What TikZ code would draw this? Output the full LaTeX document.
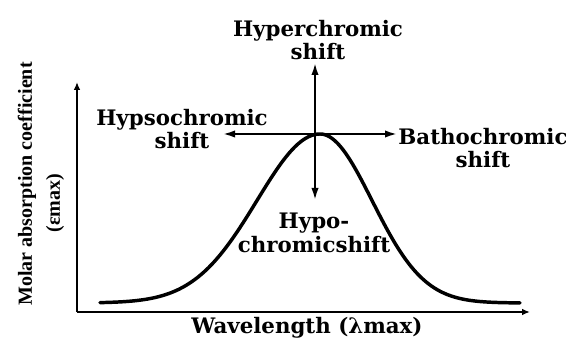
\documentclass[tikz,border=0pt]{standalone}
\usepackage{fontspec}
\setmainfont{DejaVu Serif}
\newfontfamily\axisfont{Liberation Serif}
\usetikzlibrary{arrows.meta,positioning}

\begin{document}
\begin{tikzpicture}[
    x=0.75pt, y=-0.75pt,
    font=\bfseries\fontsize{16}{17.5}\selectfont,
    lbl/.style={align=center, inner sep=0pt},
    ylbl/.style={inner sep=0pt, rotate=90, font=\axisfont\bfseries\fontsize{15}{17}\selectfont},
    axis/.style={line width=1.5pt, -{Latex[length=6pt, width=5pt]}},
    curve/.style={line width=2.6pt, line cap=round},
    arr/.style={line width=1.5pt, -{Latex[length=9pt, width=5.5pt]}}
]
\useasboundingbox (0,0) rectangle (566,341);

% axes
\coordinate (origin) at (77,312);
\coordinate (ytop) at (77,82);
\coordinate (xend) at (530,312);
\draw[axis] (origin) -- (ytop);
\draw[axis] (origin) -- (xend);

% absorption band
\draw[curve] plot[domain=100:320, samples=80] (\x, {303-169*exp(-((\x-320)/63)^2/2)})
    -- plot[domain=320:520, samples=80] (\x, {303-169*exp(-((\x-320)/52)^2/2)});

% labels
\node[lbl] (hyper) at (318,40) {Hyperchromic\\shift};
\node[lbl] (hypso) at (182,129) {Hypsochromic\\shift};
\node[lbl] (batho) at (483,148) {Bathochromic\\shift};
\node[lbl] (hypo) at (314,233) {Hypo-\\chromicshift};
\node[lbl] (xlabel) at (307,328) {Wavelength (λmax)};
\node[ylbl] (ylabel) at (27,184) {Molar absorption coefficient};
\node[ylbl] (yunit) at (55,203) {(εmax)};

% shifts
\coordinate (peak) at (315,134);
\coordinate (upend) at (315,63);
\coordinate (downend) at (315,200);
\coordinate (leftend) at (223,134);
\coordinate (rightend) at (397,134);
\draw[arr] (peak) -- (upend);
\draw[arr] (peak) -- (downend);
\draw[arr] (peak) -- (leftend);
\draw[arr] (peak) -- (rightend);
\end{tikzpicture}
\end{document}
